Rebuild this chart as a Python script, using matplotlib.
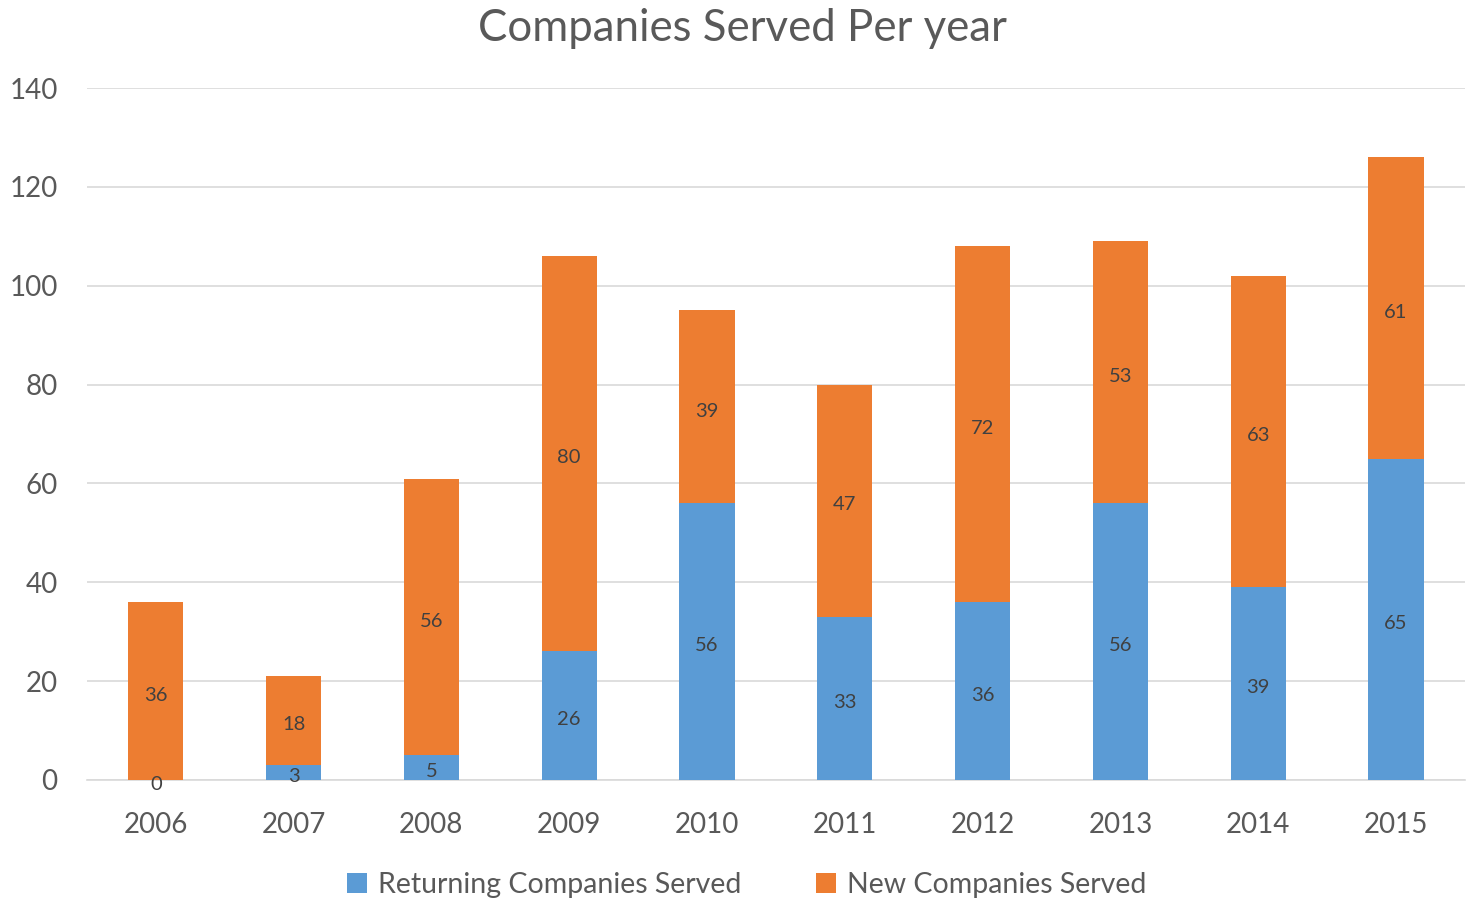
import matplotlib
matplotlib.use('Agg')
from matplotlib import pyplot as plt
import numpy as np

years = ['2006', '2007', '2008', '2009', '2010', '2011', '2012', '2013', '2014', '2015']
returning = [0, 3, 5, 26, 56, 33, 36, 56, 39, 65]
new = [36, 18, 56, 80, 39, 47, 72, 53, 63, 61]

plt.rcParams['font.family'] = ['Lato', 'DejaVu Sans']

fig = plt.figure(figsize=(14.73, 9.08), dpi=100)
ax = fig.add_axes([0.059, 0.141, 0.9355, 0.762])

x = np.arange(len(years))
b1 = ax.bar(x, returning, width=0.4, color='#5B9BD5', label='Returning Companies Served', zorder=3)
b2 = ax.bar(x, new, width=0.4, bottom=returning, color='#ED7D31', label='New Companies Served', zorder=3)

ax.bar_label(b1, label_type='center', fontsize=14.5, color='#404040', padding=-3)
ax.bar_label(b2, label_type='center', fontsize=14.5, color='#404040', padding=-3)

ax.set_xlim(-0.5, len(years) - 0.5)
ax.set_ylim(0, 140)
ax.set_yticks(range(0, 141, 20))
ax.set_xticks(x)
ax.set_xticklabels(years)
ax.yaxis.grid(True, color='#D9D9D9', linewidth=1.2, zorder=0)
for s in ['top', 'right', 'left']:
    ax.spines[s].set_visible(False)
ax.spines['bottom'].set_color('#D9D9D9')
ax.spines['bottom'].set_linewidth(1.2)
ax.tick_params(axis='both', length=0, labelsize=20, colors='#595959')
ax.tick_params(axis='y', pad=21)
ax.tick_params(axis='x', pad=23)

fig.text(0.504, 0.969, 'Companies Served Per year', ha='center', va='center',
         fontsize=31.5, color='#595959')

leg = fig.legend(handles=[b1, b2], loc='center', bbox_to_anchor=(0.507, 0.025), ncol=2,
                 frameon=False, fontsize=20.5, handlelength=0.7, handleheight=0.7,
                 columnspacing=2.6, handletextpad=0.4)
for t in leg.get_texts():
    t.set_color('#595959')

fig.savefig('out.png', dpi=100)
